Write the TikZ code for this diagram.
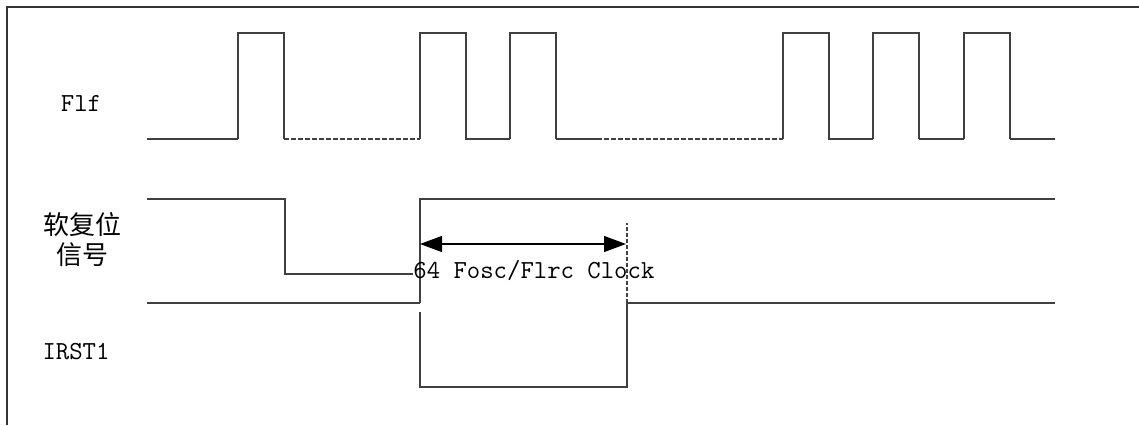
\documentclass[tikz,border=0pt]{standalone}
\usepackage{fontspec}
\newfontfamily\cjk{Noto Sans CJK SC}
\usepackage{tikz}
\usetikzlibrary{arrows.meta}

\begin{document}
\begin{tikzpicture}[x=.5pt,y=-.5pt,font=\fontsize{13}{15}\selectfont\ttfamily,
    sig/.style={line width=.65pt,black!75},
    gap/.style={sig,dash pattern=on 2.5pt off 1pt}]
    \useasboundingbox (0,0) rectangle (1139,425);
    % frame
    \draw[line width=1pt,black!80] (7,425) -- (7,7) -- (1139,7);
    % Flf
    \foreach \s in {238,420,510,783,873,964}{
      \draw[sig] (\s,139) -- (\s,33) -- (\s+46,33) -- (\s+46,139);
    }
    \foreach \a/\b in {147/238,465/510,556/602,828/873,919/964,1010/1055}{
      \draw[sig] (\a,139) -- (\b,139);
    }
    \draw[gap] (284,139) -- (420,139);
    \draw[gap] (604,139) -- (783,139);
    % soft reset
    \draw[sig] (147,199) -- (285,199) -- (285,274) -- (413,274);
    \draw[sig] (420,303) -- (420,199) -- (1055,199);
    % IRST1
    \draw[sig] (147,303) -- (420,303);
    \draw[sig] (420,312) -- (420,387) -- (627,387) -- (627,303) -- (1055,303);
    \draw[gap,dash pattern=on 2pt off 1pt] (627,303) -- (627,223);
    % width
    \coordinate (wa) at (420,244);
    \coordinate (wb) at (626,244);
    \draw[line width=.65pt,{Triangle[length=11pt,width=8pt]}-{Triangle[length=11pt,width=8pt]}] (wa) -- (wb);
    \node[anchor=west,inner sep=0pt] (clk) at (413,271) {64 Fosc/Flrc Clock};
    % labels
    \node (flf) at (81,103) {Flf};
    \node[align=center,font=\fontsize{13}{15}\selectfont\cjk] (rst) at (82,240) {软复位\\信号};
    \node (irst) at (76,352) {IRST1};
  \end{tikzpicture}
\end{document}
